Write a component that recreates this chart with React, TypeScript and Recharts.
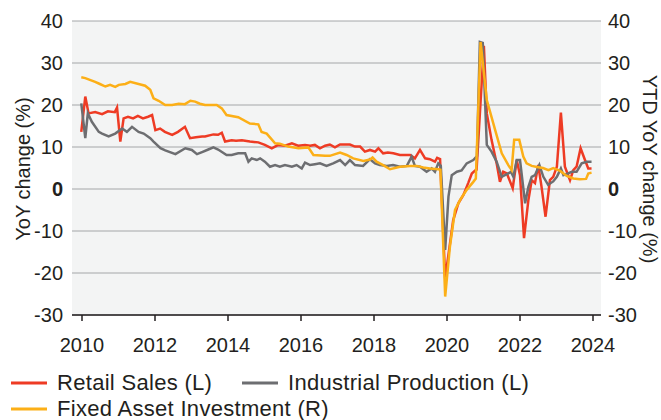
import React from "react";
import { CartesianGrid, Line, LineChart, XAxis, YAxis } from "recharts";

// China activity data, YoY %. Points are [decimal year, value].
const retailSales: [number, number][] = [
  [2009.98, 13.6], [2010.09, 22], [2010.18, 18], [2010.36, 18.3], [2010.55, 17.8], [2010.71, 18.5],
  [2010.9, 18.3], [2010.96, 19.4], [2011.05, 11.3], [2011.14, 16.8], [2011.26, 17.2], [2011.4, 16.8],
  [2011.53, 17.4], [2011.67, 16.8], [2011.81, 17.2], [2011.92, 17.6], [2012.01, 14], [2012.14, 14.4],
  [2012.27, 13.6], [2012.47, 12.9], [2012.63, 13.6], [2012.82, 14.8], [2012.96, 12.1], [2013.12, 12.3],
  [2013.29, 12.5], [2013.37, 12.5], [2013.6, 13], [2013.73, 12.9], [2013.83, 13.4], [2013.92, 11.3],
  [2014.1, 11.6], [2014.22, 11.5], [2014.38, 11.6], [2014.6, 11.3], [2014.83, 11.1], [2015.01, 10.5],
  [2015.2, 9.7], [2015.38, 10.5], [2015.56, 10.3], [2015.75, 10.9], [2015.92, 10.3], [2016.11, 10.5],
  [2016.25, 10.3], [2016.38, 10.5], [2016.52, 9.7], [2016.66, 10.3], [2016.79, 10.6], [2016.93, 9.9],
  [2017.07, 10.6], [2017.34, 10.6], [2017.48, 10.1], [2017.62, 10.1], [2017.75, 8.9], [2017.89, 9.3],
  [2018.03, 8.9], [2018.12, 9.7], [2018.25, 8.5], [2018.38, 8.7], [2018.53, 8.5], [2018.71, 8.1],
  [2018.99, 8.1], [2019.12, 7.3], [2019.26, 9.3], [2019.4, 7.3], [2019.53, 7.1], [2019.67, 6.5],
  [2019.73, 7.4], [2019.81, 7.1], [2019.95, -21.3], [2020.17, -7.4], [2020.31, -3.4], [2020.45, -1.4],
  [2020.58, 1.4], [2020.68, 3.7], [2020.77, 4.4], [2020.81, 4.6], [2021.01, 34.1], [2021.09, 18],
  [2021.22, 11.7], [2021.36, 6.1], [2021.45, 1.7], [2021.54, 4.1], [2021.64, 3.7], [2021.8, 0.2],
  [2021.91, 6.9], [2022.0, 3.3], [2022.11, -11.7], [2022.23, -2.6], [2022.32, 2.1], [2022.41, 1.4],
  [2022.5, 5.7], [2022.59, 0.5], [2022.7, -6.6], [2022.82, 2.1], [2022.91, 2.9], [2023.01, 5.3],
  [2023.12, 18.2], [2023.23, 5.3], [2023.37, 2.1], [2023.46, 4.5], [2023.55, 5.3], [2023.66, 9.7],
  [2023.78, 6.9], [2023.87, 4.9], [2023.96, 4.9],
];

const industrialProduction: [number, number][] = [
  [2009.98, 20.4], [2010.09, 12.1], [2010.16, 18], [2010.27, 16], [2010.46, 13.6], [2010.55, 13.2],
  [2010.73, 12.5], [2010.91, 13.2], [2011.1, 14.4], [2011.23, 13.6], [2011.37, 14.8], [2011.55, 13.6],
  [2011.69, 13.2], [2011.87, 12.1], [2011.96, 11.3], [2012.15, 9.7], [2012.28, 9.2], [2012.56, 8.3],
  [2012.83, 9.7], [2013.01, 9.3], [2013.15, 8.3], [2013.29, 8.8], [2013.46, 9.4], [2013.6, 9.9],
  [2013.73, 9.4], [2013.96, 8.1], [2014.1, 8.1], [2014.28, 8.5], [2014.47, 8.5], [2014.56, 6.5],
  [2014.65, 7.3], [2014.79, 6.9], [2014.88, 7.3], [2015.01, 6.5], [2015.15, 5.3], [2015.29, 5.7],
  [2015.42, 5.3], [2015.56, 5.7], [2015.75, 5.3], [2015.88, 5.7], [2016.02, 4.9], [2016.11, 6.3],
  [2016.25, 5.7], [2016.38, 5.9], [2016.52, 6.1], [2016.7, 5.5], [2016.88, 6.1], [2017.07, 6.9],
  [2017.21, 5.7], [2017.34, 6.9], [2017.48, 5.7], [2017.7, 5.5], [2017.89, 7.1], [2018.03, 6.1],
  [2018.16, 5.7], [2018.35, 5.5], [2018.52, 5.7], [2018.71, 5.3], [2018.9, 5.5], [2019.03, 7.7],
  [2019.12, 5.5], [2019.26, 5.3], [2019.44, 4.1], [2019.58, 4.9], [2019.67, 4.1], [2019.76, 6.1],
  [2019.83, 5.5], [2019.95, -14.5], [2020.04, -1.8], [2020.13, 3.3], [2020.27, 4.1], [2020.4, 4.4],
  [2020.54, 6.1], [2020.72, 6.9], [2020.82, 7.8], [2020.9, 35], [2020.98, 34.8], [2021.09, 10.5],
  [2021.22, 8.9], [2021.36, 6.5], [2021.5, 2.9], [2021.68, 3.7], [2021.75, 4.1], [2021.82, 2.9],
  [2021.91, 6.9], [2022.0, 6.9], [2022.14, -3.4], [2022.23, 0.5], [2022.32, 2.9], [2022.41, 3.3],
  [2022.53, 5.7], [2022.64, 2.9], [2022.77, 1.0], [2022.91, 1.8], [2023.01, 2.9], [2023.12, 4.9],
  [2023.19, 3.3], [2023.32, 3.7], [2023.42, 4.1], [2023.55, 4.1], [2023.69, 6.1], [2023.83, 6.5],
  [2023.96, 6.5],
];

// year-to-date growth, plotted on the right axis
const fixedAssetInvestment: [number, number][] = [
  [2009.98, 26.6], [2010.09, 26.4], [2010.36, 25.5], [2010.49, 25], [2010.64, 24.4], [2010.77, 24.8],
  [2010.91, 24.3], [2011.01, 24.8], [2011.19, 25], [2011.32, 25.5], [2011.55, 25], [2011.73, 24.6],
  [2011.87, 23.6], [2011.96, 21.6], [2012.1, 21], [2012.28, 20], [2012.47, 20], [2012.65, 20.3],
  [2012.82, 20.2], [2012.97, 21], [2013.1, 20.8], [2013.23, 20.3], [2013.37, 20], [2013.69, 20],
  [2013.83, 19.2], [2013.96, 17.6], [2014.28, 17.1], [2014.6, 15.6], [2014.83, 15.4], [2014.92, 13.6],
  [2015.06, 13.2], [2015.29, 10.9], [2015.42, 10.8], [2015.65, 10.1], [2015.93, 9.7], [2016.2, 9.9],
  [2016.34, 8.1], [2016.66, 7.9], [2016.79, 7.9], [2017.07, 8.7], [2017.25, 8.1], [2017.43, 7.3],
  [2017.71, 6.7], [2017.89, 7.0], [2017.96, 7.5], [2018.07, 6.5], [2018.25, 5.7], [2018.44, 4.7],
  [2018.71, 5.3], [2018.99, 5.5], [2019.17, 5.5], [2019.35, 5.1], [2019.53, 4.9], [2019.76, 4.7],
  [2019.82, 4.6], [2019.95, -25.6], [2020.08, -13.7], [2020.22, -5], [2020.36, -2.6], [2020.54, -0.2],
  [2020.72, 1.7], [2020.79, 2.5], [2020.92, 35], [2021.09, 21.2], [2021.32, 14], [2021.5, 8.5],
  [2021.68, 5.7], [2021.77, 4.5], [2021.84, 11.7], [2021.98, 11.7], [2022.09, 7.7], [2022.18, 6.1],
  [2022.32, 5.5], [2022.5, 5.2], [2022.63, 5.0], [2022.78, 4.5], [2022.91, 5.0], [2023.1, 4.3],
  [2023.28, 3.1], [2023.46, 2.5], [2023.64, 2.3], [2023.81, 2.4], [2023.87, 3.7], [2023.96, 3.9],
];

const yearTicks = [2010, 2012, 2014, 2016, 2018, 2020, 2022, 2024];
const valueTicks = [-30, -20, -10, 0, 10, 20, 30, 40];

const FONT = '"Liberation Sans", Arial, sans-serif';
const INK = "#231f20";
const RED = "#ee3b24";
const GREY = "#6d6e71";
const ORANGE = "#fcaf17";

const toRows = (pts: [number, number][]) => pts.map(([t, v]) => ({ t, v }));

function ValueTick(props: any) {
  const { x, y, payload, textAnchor } = props;
  return (
    <text
      x={x}
      y={y}
      dy="0.35em"
      textAnchor={textAnchor}
      fontSize={20}
      fontFamily={FONT}
      fill={INK}
      fontWeight={payload.value === 0 ? 700 : 400}
    >
      {payload.value}
    </text>
  );
}

function YearTick(props: any) {
  const { x, y, payload } = props;
  return (
    <text x={x} y={y} dy="0.71em" textAnchor="middle" fontSize={20} fontFamily={FONT} fill={INK}>
      {payload.value}
    </text>
  );
}

function AxisTitle({ viewBox, text, side }: any) {
  const cx = side === "left" ? viewBox.x + 23 : viewBox.x + 49;
  const cy = viewBox.y + viewBox.height / 2 + 1;
  return (
    <text
      x={cx}
      y={cy}
      transform={`rotate(${side === "left" ? -90 : 90} ${cx} ${cy})`}
      textAnchor="middle"
      dominantBaseline="central"
      fontSize={20}
      fontFamily={FONT}
      fill={INK}
    >
      {text}
    </text>
  );
}

function LegendItem({ color, label, left, top }: { color: string; label: string; left: number; top: number }) {
  return (
    <div
      style={{
        position: "absolute",
        left,
        top,
        height: 20,
        display: "flex",
        alignItems: "center",
        whiteSpace: "nowrap",
      }}
    >
      <svg width={36} height={4} style={{ marginRight: 10, flex: "none" }}>
        <line x1={0} y1={2} x2={36} y2={2} stroke={color} strokeWidth={3} />
      </svg>
      <span style={{ lineHeight: "20px" }}>{label}</span>
    </div>
  );
}

export default function App() {
  return (
    <div style={{ position: "absolute", left: 0, top: 0, width: 661, height: 420, background: "#fff", overflow: "hidden" }}>
      <LineChart width={661} height={420} margin={{ top: 21, right: 0, bottom: 55, left: 0 }}>
        <CartesianGrid vertical={false} stroke="#a4a6a8" strokeWidth={1} fill="#f3f4f4" yAxisId="left" />
        <XAxis
          dataKey="t"
          type="number"
          domain={[2009.726, 2024.219]}
          allowDataOverflow
          ticks={yearTicks}
          tick={<YearTick />}
          tickSize={6}
          tickMargin={17}
          height={50}
          axisLine={{ stroke: INK, strokeWidth: 1.5 }}
          tickLine={{ stroke: INK, strokeWidth: 1.5 }}
        />
        <YAxis
          yAxisId="left"
          domain={[-30, 40]}
          ticks={valueTicks}
          width={72}
          axisLine={false}
          tickLine={false}
          tickSize={0}
          tickMargin={9}
          tick={<ValueTick />}
          label={{ content: (p: any) => <AxisTitle {...p} text="YoY change (%)" side="left" /> }}
        />
        <YAxis
          yAxisId="right"
          orientation="right"
          domain={[-30, 40]}
          ticks={valueTicks}
          width={60}
          axisLine={false}
          tickLine={false}
          tickSize={0}
          tickMargin={7}
          tick={<ValueTick />}
          label={{ content: (p: any) => <AxisTitle {...p} text="YTD YoY change (%)" side="right" /> }}
        />
        <Line
          yAxisId="left"
          data={toRows(retailSales)}
          dataKey="v"
          stroke={RED}
          strokeWidth={2.5}
          dot={false}
          isAnimationActive={false}
        />
        <Line
          yAxisId="left"
          data={toRows(industrialProduction)}
          dataKey="v"
          stroke={GREY}
          strokeWidth={2.5}
          dot={false}
          isAnimationActive={false}
        />
        <Line
          yAxisId="right"
          data={toRows(fixedAssetInvestment)}
          dataKey="v"
          stroke={ORANGE}
          strokeWidth={2.5}
          dot={false}
          isAnimationActive={false}
        />
      </LineChart>
      <div style={{ fontFamily: FONT, fontSize: 22, letterSpacing: 0.3, color: INK }}>
        <LegendItem color={RED} label="Retail Sales (L)" left={11} top={373} />
        <LegendItem color={GREY} label="Industrial Production (L)" left={242} top={373} />
        <LegendItem color={ORANGE} label="Fixed Asset Investment (R)" left={11} top={399} />
      </div>
    </div>
  );
}
